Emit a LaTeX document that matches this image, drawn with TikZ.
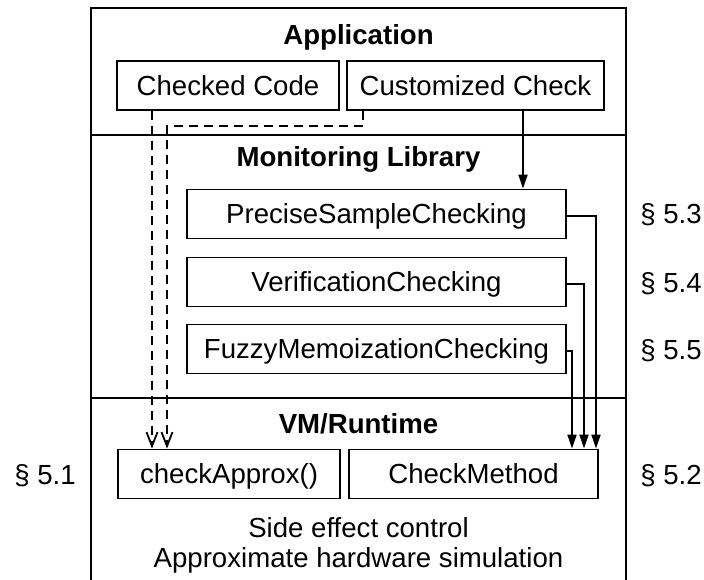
\documentclass[tikz,border=0pt]{standalone}
\usepackage{fontspec}
\setmainfont{Liberation Sans}
\usetikzlibrary{arrows.meta}
\tikzset{box/.style={draw,line width=1.8pt,minimum height=49pt,inner sep=0pt,text height=0.72em,text depth=0pt},
arr/.style={-{Triangle[length=14pt,width=9pt]},line width=1.8pt},
darr/.style={dash pattern=on 9pt off 6pt,-{Straight Barb[length=14pt,width=11pt]},line width=1.8pt},
ttl/.style={font=\bfseries,anchor=base},sec/.style={anchor=base}}
\begin{document}
\fontsize{27.6}{30}\selectfont
\begin{tikzpicture}[x=1pt,y=-1pt]
\useasboundingbox(0,0)rectangle(704,580);
% layers
\draw[line width=1.8pt](91,580)|-(626,8)--(626,580);
\draw[line width=1.8pt](91,135)--(626,135);\draw[line width=1.8pt](91,398)--(626,398);
\node[ttl](app)at(358.5,45){Application};
\node[ttl](lib)at(358.5,167){Monitoring Library};
\node[ttl](vm)at(358.5,433){VM/Runtime};
% boxes
\node[box,minimum width=222pt](code)at(228,85.5){Checked Code};
\node[box,minimum width=257pt](custom)at(475.5,85.5){Customized Check};
\node[box,minimum width=379pt](precise)at(376.5,214){PreciseSampleChecking};
\node[box,minimum width=379pt](verif)at(376.5,282){VerificationChecking};
\node[box,minimum width=379pt](fuzzy)at(376.5,349){FuzzyMemoizationChecking};
\node[box,minimum width=222pt](approx)at(229,474){checkApprox()};
\node[box,minimum width=249pt](method)at(473.5,474){CheckMethod};
\node[sec](side)at(358.5,537){Side effect control};
\node[sec](hw)at(358.5,567){Approximate hardware simulation};
% sections
\node[sec](s1)at(45,484){§ 5.1};\node[sec](s2)at(671,484){§ 5.2};
\node[sec](s3)at(671,224){§ 5.3};\node[sec](s4)at(671,292){§ 5.4};\node[sec](s5)at(671,359){§ 5.5};
% connectors
\coordinate(d1)at(152,0);\coordinate(d2)at(167,0);\coordinate(k1)at(363,0);\coordinate(k2)at(523,0);
\draw[darr](code.south-|d1)--(approx.north-|d1);
\draw[darr](custom.south-|k1)--++(0,15)-|(approx.north-|d2);
\draw[arr](custom.south-|k2)--(precise.north-|k2);
\foreach\n/\x in{precise/596,verif/584,fuzzy/572}{\coordinate(t\n)at(\x,0);\draw[arr]([yshift=-2pt]\n.east)-|(method.north-|t\n);}
\end{tikzpicture}
\end{document}
